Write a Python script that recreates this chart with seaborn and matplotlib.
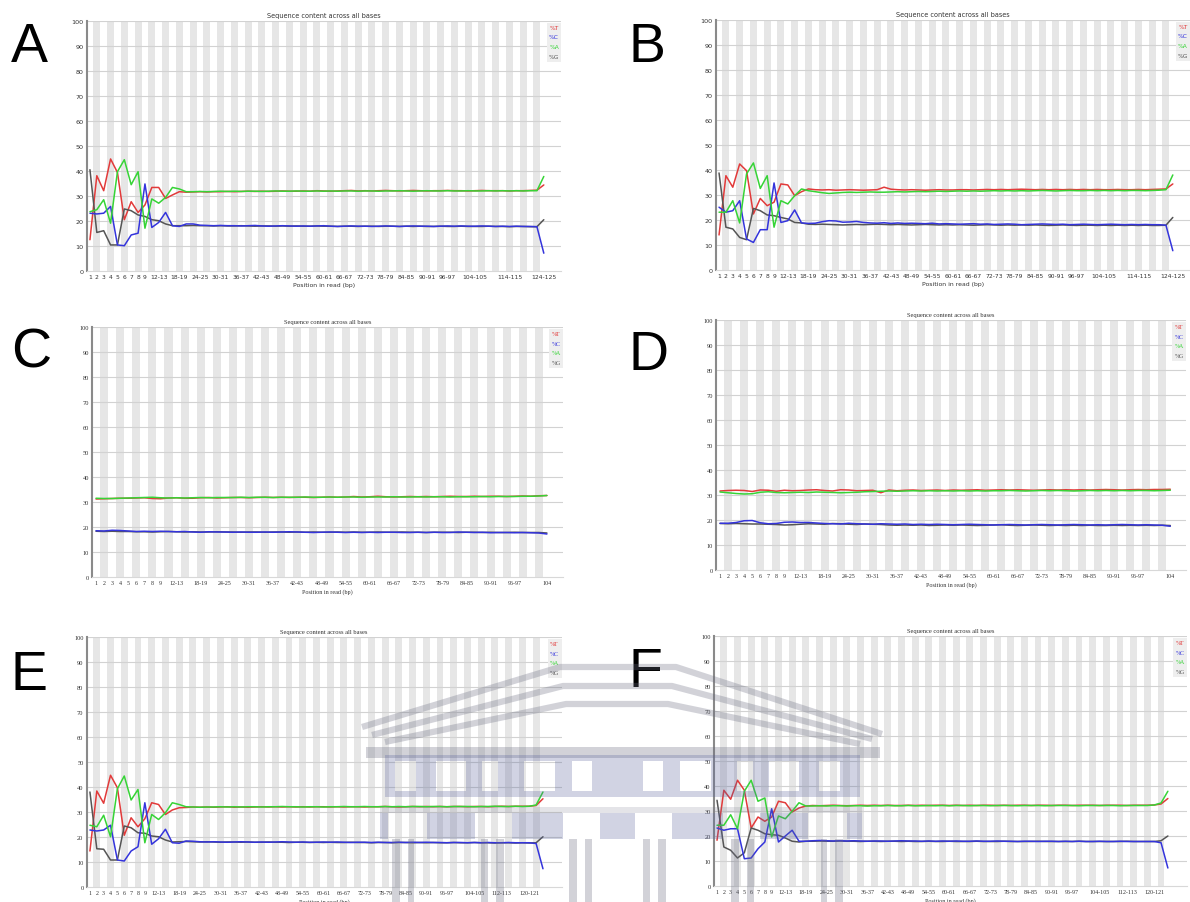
import matplotlib
matplotlib.use("Agg")
import matplotlib.pyplot as plt
import seaborn as sns
import pandas as pd
from matplotlib.patches import Rectangle

W, H = 1190, 903

# ---------------- data ----------------
TICKS_AB = ["1", "2", "3", "4", "5", "6", "7", "8", "9", "12-13", "18-19", "24-25", "30-31",
            "36-37", "42-43", "48-49", "54-55", "60-61", "66-67", "72-73", "78-79", "84-85",
            "90-91", "96-97", "104-105", "114-115", "124-125"]
TICKS_CD = ["1", "2", "3", "4", "5", "6", "7", "8", "9", "12-13", "18-19", "24-25", "30-31",
            "36-37", "42-43", "48-49", "54-55", "60-61", "66-67", "72-73", "78-79", "84-85",
            "90-91", "96-97", "104"]
TICKS_EF = ["1", "2", "3", "4", "5", "6", "7", "8", "9", "12-13", "18-19", "24-25", "30-31",
            "36-37", "42-43", "48-49", "54-55", "60-61", "66-67", "72-73", "78-79", "84-85",
            "90-91", "96-97", "104-105", "112-113", "120-121"]

A_T = [12.4, 38.0, 32.0, 44.7, 39.3, 20.4, 27.6, 23.3, 26.3, 33.3, 33.3, 28.9, 30.3, 31.6,
       31.4, 31.5, 31.6, 31.5, 31.6, 31.6, 31.7, 31.6, 31.7, 31.8,
       31.7, 31.8, 31.7, 31.8, 31.9, 31.8, 31.8, 31.9, 31.8, 32.0,
       31.9, 31.8, 31.9, 32.0, 32.1, 31.9, 32.0, 31.9, 32.0, 32.1,
       32.0, 31.9, 32.0, 32.1, 32.0, 31.9, 32.0, 32.0, 32.1, 32.0,
       32.0, 31.9, 32.0, 32.1, 32.0, 32.0, 32.0, 31.9, 32.0, 32.0,
       32.1, 32.2, 34.3]
A_C = [23.0, 22.7, 23.0, 25.7, 10.3, 10.0, 14.3, 15.0, 34.7, 17.3, 19.3, 23.3, 18.0, 17.7,
       18.7, 18.7, 18.2, 18.1, 18.0, 18.1, 18.0, 18.0, 17.9, 18.0,
       18.1, 17.9, 17.8, 17.9, 18.0, 17.9, 17.8, 17.9, 17.8, 17.9,
       18.0, 17.8, 17.7, 17.8, 17.9, 17.8, 17.8, 17.7, 17.8, 17.9,
       17.8, 17.7, 17.8, 17.9, 17.8, 17.8, 17.7, 17.8, 17.9, 17.8,
       17.9, 17.8, 17.8, 17.9, 17.8, 17.7, 17.8, 17.7, 17.8, 17.7,
       17.7, 17.6, 7.0]
A_A = [23.6, 24.4, 28.4, 19.0, 39.6, 44.4, 34.4, 39.6, 17.0, 28.7, 27.0, 29.3, 33.3, 32.7,
       31.6, 31.6, 31.7, 31.6, 31.7, 31.8, 31.7, 31.8, 31.7, 31.8,
       31.8, 31.7, 31.8, 31.9, 31.8, 31.8, 31.9, 31.8, 31.8, 31.9,
       31.8, 31.9, 31.8, 31.9, 31.9, 31.8, 31.9, 31.9, 31.8, 31.9,
       31.9, 32.0, 31.9, 31.8, 31.9, 32.0, 31.9, 31.9, 32.0, 31.9,
       31.9, 32.0, 31.9, 31.9, 32.0, 31.9, 32.0, 31.9, 32.0, 31.9,
       32.0, 32.0, 37.7]
A_G = [40.4, 15.3, 16.0, 10.3, 10.3, 24.7, 24.0, 22.3, 21.7, 20.4, 20.0, 18.7, 18.0, 18.0,
       18.0, 18.1, 18.0, 18.0, 17.9, 18.0, 17.9, 17.9, 18.0, 17.9,
       17.8, 17.9, 17.9, 17.8, 17.9, 17.8, 17.9, 17.8, 17.8, 17.9,
       17.8, 17.8, 17.7, 17.8, 17.8, 17.7, 17.8, 17.8, 17.7, 17.8,
       17.8, 17.7, 17.8, 17.7, 17.8, 17.7, 17.7, 17.8, 17.7, 17.7,
       17.8, 17.7, 17.7, 17.7, 17.8, 17.7, 17.7, 17.6, 17.7, 17.7,
       17.6, 17.6, 20.4]

B_T = [13.9, 37.6, 33.0, 42.3, 39.6, 22.3, 28.5, 25.6, 27.0, 34.3, 33.9, 29.6, 31.2, 32.3,
       32.0, 31.9, 32.0, 31.8, 31.9, 32.0, 31.9, 31.8, 31.9, 32.0,
       33.0, 32.2, 32.0, 31.9, 32.0, 31.9, 31.8, 31.9, 32.0, 31.9,
       31.9, 32.0, 32.0, 31.9, 32.0, 32.1, 32.0, 32.1, 32.0, 32.1,
       32.2, 32.1, 32.0, 32.1, 32.0, 32.1, 32.0, 32.1, 32.0, 32.1,
       32.0, 32.1, 32.0, 32.0, 32.1, 32.0, 32.0, 32.1, 32.0, 32.1,
       32.2, 32.3, 34.3]
B_C = [25.0, 23.0, 23.6, 27.6, 12.3, 10.9, 16.0, 16.0, 34.7, 18.9, 19.6, 23.9, 18.7, 18.5,
       18.6, 19.2, 19.6, 19.5, 19.0, 19.1, 19.3, 18.9, 18.7, 18.6,
       18.8, 18.5, 18.7, 18.5, 18.6, 18.5, 18.4, 18.6, 18.3, 18.4,
       18.3, 18.2, 18.3, 18.4, 18.2, 18.3, 18.1, 18.2, 18.3, 18.2,
       18.0, 18.1, 18.2, 18.3, 18.2, 18.1, 18.2, 18.0, 18.1, 18.2,
       18.1, 18.0, 18.1, 18.2, 18.1, 18.0, 18.1, 18.0, 18.1, 18.0,
       18.0, 17.8, 7.6]
B_A = [23.0, 23.0, 27.6, 18.7, 38.3, 42.7, 32.5, 37.6, 17.0, 27.6, 26.3, 29.6, 32.3, 31.6,
       31.2, 30.8, 30.5, 30.7, 30.9, 31.0, 30.9, 31.0, 31.1, 31.0,
       31.0, 31.1, 31.2, 31.1, 31.2, 31.3, 31.2, 31.3, 31.4, 31.3,
       31.4, 31.5, 31.4, 31.5, 31.4, 31.5, 31.6, 31.5, 31.6, 31.5,
       31.6, 31.5, 31.6, 31.7, 31.6, 31.5, 31.6, 31.7, 31.6, 31.6,
       31.7, 31.6, 31.7, 31.6, 31.7, 31.6, 31.7, 31.7, 31.6, 31.7,
       31.8, 32.0, 37.9]
B_G = [38.7, 17.0, 16.3, 12.9, 12.0, 24.5, 23.6, 21.9, 21.6, 20.9, 20.3, 18.9, 18.7, 18.2,
       18.1, 18.2, 18.1, 18.0, 17.9, 18.0, 18.1, 18.0, 18.1, 18.2,
       18.1, 18.0, 18.1, 18.0, 17.9, 18.0, 18.1, 18.0, 17.9, 18.0,
       17.9, 18.0, 17.9, 17.8, 17.9, 18.0, 17.9, 17.8, 17.9, 17.8,
       17.9, 17.8, 17.9, 17.8, 17.7, 17.8, 17.9, 17.8, 17.7, 17.8,
       17.8, 17.7, 17.8, 17.7, 17.8, 17.7, 17.8, 17.7, 17.8, 17.7,
       17.7, 17.8, 20.9]

C_T = [31.2, 31.3, 31.4, 31.5, 31.5, 31.6, 31.7, 31.4, 31.3, 31.6,
       31.7, 31.5, 31.5, 31.7, 31.8, 31.6, 31.7, 31.8, 31.8, 31.7,
       31.8, 31.9, 31.8, 31.9, 31.8, 31.9, 31.9, 31.8, 31.9, 32.0,
       31.9, 32.0, 32.2, 32.0, 32.1, 32.3, 32.1, 32.0, 32.1, 32.2,
       32.1, 32.2, 32.1, 32.2, 32.3, 32.2, 32.2, 32.3, 32.2, 32.3,
       32.3, 32.2, 32.3, 32.4, 32.3, 32.5, 32.6]
C_C = [18.5, 18.4, 18.7, 18.6, 18.4, 18.2, 18.3, 18.2, 18.3, 18.2,
       18.1, 18.2, 18.0, 17.9, 18.1, 18.0, 18.0, 17.9, 18.0, 17.9,
       17.9, 18.0, 17.9, 18.0, 18.1, 18.0, 17.9, 17.8, 17.9, 18.0,
       17.9, 17.8, 17.9, 17.8, 17.9, 17.8, 17.9, 17.9, 17.8, 17.8,
       17.9, 17.8, 17.9, 17.8, 17.8, 18.0, 17.9, 17.8, 17.9, 17.7,
       17.8, 17.8, 17.7, 17.8, 17.7, 17.6, 17.2]
C_A = [31.5, 31.4, 31.4, 31.5, 31.6, 31.7, 31.8, 31.9, 31.7, 31.6,
       31.7, 31.6, 31.7, 31.8, 31.7, 31.8, 31.8, 31.8, 31.9, 31.8,
       31.9, 31.9, 31.8, 31.9, 31.9, 31.9, 32.0, 31.9, 31.9, 32.0,
       31.9, 32.0, 32.0, 31.9, 32.0, 32.0, 32.0, 32.1, 32.0, 32.0,
       32.1, 32.0, 32.1, 32.1, 32.0, 32.1, 32.1, 32.1, 32.2, 32.1,
       32.2, 32.2, 32.2, 32.3, 32.3, 32.4, 32.6]
C_G = [18.3, 18.2, 18.3, 18.2, 18.2, 18.1, 18.1, 18.0, 18.1, 18.2,
       18.1, 18.0, 18.1, 18.0, 18.0, 18.1, 18.0, 18.0, 17.9, 18.0,
       18.0, 17.9, 18.0, 18.0, 17.9, 18.0, 17.9, 18.0, 17.9, 17.9,
       18.0, 17.9, 18.0, 17.9, 17.9, 18.0, 17.9, 17.9, 18.0, 17.9,
       17.9, 17.8, 17.9, 17.9, 17.9, 17.8, 17.9, 17.9, 17.8, 17.9,
       17.8, 17.8, 17.9, 17.8, 17.8, 17.8, 17.6]

D_T = [31.6, 31.8, 31.9, 31.8, 31.4, 32.0, 31.9, 31.5, 31.9, 31.7,
       31.8, 32.0, 32.1, 31.8, 31.6, 32.1, 32.0, 31.7, 31.8, 31.9,
       30.9, 32.0, 31.7, 31.9, 32.0, 31.8, 31.9, 32.0, 31.8, 32.0,
       31.9, 32.0, 32.1, 31.9, 32.0, 32.1, 32.0, 32.1, 32.0, 31.9,
       32.0, 32.1, 32.0, 32.1, 32.0, 32.1, 32.0, 32.1, 32.2, 32.1,
       32.0, 32.1, 32.2, 32.1, 32.2, 32.2, 32.3]
D_C = [18.7, 18.7, 19.0, 19.7, 19.8, 18.9, 18.5, 18.6, 19.1, 19.2,
       19.0, 19.0, 18.8, 18.6, 18.5, 18.4, 18.7, 18.5, 18.4, 18.3,
       18.5, 18.4, 18.3, 18.4, 18.2, 18.3, 18.2, 18.3, 18.2, 18.1,
       18.2, 18.3, 18.2, 18.1, 18.0, 18.1, 18.2, 18.1, 18.0, 18.1,
       18.2, 18.1, 18.0, 18.1, 18.2, 18.1, 18.0, 18.1, 18.0, 18.1,
       18.2, 18.1, 18.0, 18.1, 18.0, 17.9, 17.5]
D_A = [31.2, 30.9, 30.6, 30.4, 30.5, 31.1, 31.3, 31.0, 30.9, 31.0,
       31.1, 31.0, 31.2, 31.1, 31.0, 30.9, 31.0, 31.1, 31.3, 31.4,
       31.5, 31.6, 31.5, 31.6, 31.7, 31.6, 31.7, 31.6, 31.7, 31.6,
       31.7, 31.6, 31.7, 31.6, 31.7, 31.7, 31.8, 31.7, 31.6, 31.7,
       31.8, 31.7, 31.8, 31.7, 31.6, 31.7, 31.8, 31.7, 31.8, 31.7,
       31.8, 31.7, 31.8, 31.8, 31.7, 31.8, 31.9]
D_G = [18.6, 18.5, 18.6, 18.5, 18.4, 18.4, 18.3, 18.2, 18.0, 18.1,
       18.3, 18.5, 18.4, 18.3, 18.6, 18.5, 18.3, 18.2, 18.4, 18.3,
       18.2, 18.0, 17.9, 18.0, 17.9, 18.0, 17.8, 17.9, 18.0, 17.9,
       18.0, 17.9, 17.8, 17.9, 18.0, 18.1, 17.9, 17.8, 17.9, 18.0,
       17.9, 17.8, 17.9, 17.8, 17.9, 17.8, 17.9, 17.8, 17.8, 17.9,
       17.8, 17.9, 17.8, 17.9, 17.8, 17.9, 17.8]

E_T = [14.4, 38.4, 33.5, 44.7, 39.7, 20.7, 27.7, 24.1, 27.3, 33.7, 33.0, 29.0, 30.8, 31.7,
       31.8, 32.0, 31.9, 32.0, 31.9, 32.0, 32.1, 31.9, 32.0, 31.9,
       32.0, 32.1, 32.0, 32.1, 32.0, 32.1, 32.0, 32.1, 32.0, 32.1,
       32.1, 32.0, 32.1, 32.0, 32.1, 32.1, 32.0, 32.1, 32.1, 32.2,
       32.1, 32.0, 32.1, 32.2, 32.1, 32.2, 32.1, 32.2, 32.1, 32.2,
       32.2, 32.1, 32.2, 32.2, 32.1, 32.2, 32.3, 32.2, 32.3, 32.3,
       32.3, 32.6, 35.3]
E_C = [22.8, 22.4, 22.8, 24.7, 10.8, 10.4, 14.4, 16.1, 33.7, 17.1, 19.3, 23.1, 17.7, 17.5,
       18.4, 18.3, 18.1, 18.0, 18.1, 18.0, 17.9, 18.0, 18.1, 18.0,
       17.9, 18.0, 17.9, 18.0, 18.1, 18.0, 17.9, 18.0, 17.9, 17.9,
       18.0, 17.9, 18.0, 17.9, 17.8, 17.9, 17.9, 17.8, 17.9, 17.8,
       17.8, 17.9, 17.8, 17.9, 17.8, 17.9, 17.8, 17.8, 17.7, 17.8,
       17.8, 17.7, 17.8, 17.7, 17.8, 17.7, 17.7, 17.8, 17.7, 17.7,
       17.7, 17.4, 7.3]
E_A = [24.7, 24.1, 28.7, 20.1, 39.3, 44.4, 34.8, 39.0, 17.7, 29.0, 27.0, 29.7, 33.7, 33.0,
       32.1, 32.0, 31.9, 32.0, 32.0, 32.1, 32.0, 32.1, 32.0, 32.1,
       32.1, 32.0, 32.1, 32.1, 32.2, 32.1, 32.1, 32.0, 32.1, 32.1,
       32.0, 32.1, 32.1, 32.2, 32.1, 32.1, 32.2, 32.1, 32.1, 32.2,
       32.1, 32.2, 32.1, 32.2, 32.2, 32.1, 32.2, 32.2, 32.1, 32.2,
       32.2, 32.2, 32.1, 32.2, 32.2, 32.3, 32.2, 32.2, 32.3, 32.2,
       32.3, 32.8, 38.0]
E_G = [38.0, 15.3, 15.1, 10.8, 10.8, 24.4, 23.7, 21.7, 21.5, 20.4, 20.1, 18.8, 18.0, 18.1,
       18.2, 18.1, 18.0, 18.1, 18.0, 17.9, 18.0, 18.0, 17.9, 18.0,
       17.9, 17.9, 18.0, 17.9, 17.9, 17.8, 17.9, 17.9, 17.8, 17.9,
       17.8, 17.9, 17.8, 17.8, 17.9, 17.8, 17.8, 17.7, 17.8, 17.8,
       17.7, 17.8, 17.8, 17.7, 17.8, 17.7, 17.8, 17.7, 17.7, 17.8,
       17.7, 17.7, 17.8, 17.7, 17.7, 17.6, 17.7, 17.7, 17.6, 17.7,
       17.6, 17.7, 20.1]

F_T = [18.3, 38.3, 34.7, 42.3, 38.3, 23.2, 27.6, 25.9, 27.6, 33.9, 33.3, 29.6, 31.2, 32.0,
       32.2, 32.1, 32.2, 32.3, 32.2, 32.1, 32.2, 32.3, 32.2, 32.3,
       32.2, 32.3, 32.2, 32.2, 32.3, 32.2, 32.3, 32.2, 32.3, 32.3,
       32.2, 32.3, 32.2, 32.3, 32.2, 32.3, 32.3, 32.2, 32.3, 32.2,
       32.3, 32.3, 32.2, 32.3, 32.3, 32.2, 32.3, 32.3, 32.2, 32.3,
       32.3, 32.3, 32.2, 32.3, 32.3, 32.3, 32.2, 32.3, 32.3, 32.3,
       32.4, 32.8, 35.0]
F_C = [23.2, 22.3, 22.9, 22.9, 10.9, 11.2, 14.9, 17.6, 30.9, 17.6, 20.0, 22.3, 17.9, 17.9,
       18.1, 18.2, 18.1, 18.0, 18.1, 18.0, 18.1, 18.0, 17.9, 18.0,
       18.0, 17.9, 18.0, 18.1, 18.0, 18.0, 17.9, 18.0, 17.9, 18.0,
       17.9, 18.0, 17.9, 17.9, 18.0, 17.9, 17.9, 18.0, 17.9, 17.9,
       17.8, 17.9, 17.9, 17.8, 17.9, 17.9, 17.8, 17.9, 17.8, 17.9,
       17.8, 17.8, 17.9, 17.8, 17.8, 17.9, 17.8, 17.8, 17.8, 17.8,
       17.8, 17.3, 7.2]
F_A = [24.3, 24.3, 28.5, 22.9, 37.9, 42.3, 33.9, 35.2, 19.6, 28.0, 26.9, 29.9, 33.3, 32.0,
       32.0, 32.1, 32.0, 32.1, 32.1, 32.0, 32.1, 32.1, 32.0, 32.1,
       32.1, 32.2, 32.1, 32.1, 32.2, 32.1, 32.1, 32.2, 32.1, 32.2,
       32.1, 32.2, 32.2, 32.1, 32.2, 32.2, 32.1, 32.2, 32.2, 32.2,
       32.1, 32.2, 32.2, 32.2, 32.1, 32.2, 32.2, 32.2, 32.2, 32.1,
       32.2, 32.2, 32.2, 32.2, 32.2, 32.1, 32.2, 32.2, 32.2, 32.2,
       32.4, 33.2, 37.9]
F_G = [34.3, 15.6, 14.3, 11.2, 13.3, 23.2, 22.3, 20.9, 20.5, 20.3, 19.2, 17.9, 17.6, 17.9,
       17.9, 18.0, 17.9, 17.9, 18.0, 17.9, 17.9, 17.8, 17.9, 17.9,
       17.8, 17.9, 17.9, 17.8, 17.9, 17.8, 17.8, 17.9, 17.8, 17.8,
       17.9, 17.8, 17.8, 17.8, 17.9, 17.8, 17.8, 17.8, 17.9, 17.8,
       17.8, 17.8, 17.8, 17.9, 17.8, 17.8, 17.8, 17.8, 17.8, 17.9,
       17.8, 17.8, 17.8, 17.8, 17.8, 17.8, 17.9, 17.8, 17.8, 17.8,
       17.8, 18.1, 20.0]

READ_LEN = {"A": 125, "B": 125, "C": 104, "D": 104, "E": 125, "F": 125}
BASES = ["%T", "%C", "%A", "%G"]
DRAW_ORDER = ["%T", "%G", "%C", "%A"]
COLORS = {"%T": "#e23a3a", "%C": "#3434dc", "%A": "#36d436", "%G": "#555555"}
TITLE = "Sequence content across all bases"
XLABEL = "Position in read (bp)"

# ---------------- layout (pixels) ----------------
PANELS = {
    "A": (86.5, 561, 21.7, 271.7, 68.5, 29, 62, "DejaVu Sans", TICKS_AB, (A_T, A_C, A_A, A_G)),
    "B": (715.6, 1190, 20.7, 270.7, 68.5, 647, 62, "DejaVu Sans", TICKS_AB, (B_T, B_C, B_A, B_G)),
    "C": (92, 563, 328, 578, 58.0, 31, 368, "Liberation Serif", TICKS_CD, (C_T, C_C, C_A, C_G)),
    "D": (716, 1186, 321, 571, 57.95, 649, 370, "Liberation Serif", TICKS_CD, (D_T, D_C, D_A, D_G)),
    "E": (86.5, 561.5, 638, 888, 68.7, 29, 690, "Liberation Serif", TICKS_EF, (E_T, E_C, E_A, E_G)),
    "F": (713.6, 1187, 637, 887, 68.8, 645, 687, "Liberation Serif", TICKS_EF, (F_T, F_C, F_A, F_G)),
}


def groups(L):
    g = [str(i) for i in range(1, 10)]
    a = 10
    while a <= L:
        g.append(f"{a}-{a+1}" if a + 1 <= L else str(a))
        a += 2
    return g


sns.set_theme(style="white")
plt.rcParams["font.family"] = ["DejaVu Sans"]
fig = plt.figure(figsize=(W / 100, H / 100), dpi=100)
fig.patch.set_facecolor("white")


def fx(x):
    return x / W


def fy(y):
    return 1 - y / H


for name, (L, R, T, B, xr, lx, lb, fam, ticks, series) in PANELS.items():
    grp = groups(READ_LEN[name])
    n = len(grp)
    assert all(len(s) == n for s in series), name
    ax = fig.add_axes([fx(L), fy(B), fx(R) - fx(L), fy(T) - fy(B)])
    ax.set_facecolor("white")
    for i in range(1, n, 2):
        ax.axvspan(i - 0.5, i + 0.5, color="#e6e6e6", lw=0, zorder=0)
    for yv in range(10, 101, 10):
        ax.axhline(yv, color="#d2d2d2", lw=0.8, zorder=1)
    df = pd.DataFrame({
        "pos": list(range(n)) * 4,
        "val": [v for s in series for v in s],
        "base": [b for b in BASES for _ in range(n)],
    })
    sns.lineplot(data=df, x="pos", y="val", hue="base", hue_order=DRAW_ORDER,
                 palette=COLORS, legend=False, lw=1.1, ax=ax, zorder=3)
    ax.set_xlim(-0.5, xr)
    ax.set_ylim(0, 100)
    ax.set_yticks(range(0, 101, 10))
    ax.set_yticklabels([str(v) for v in range(0, 101, 10)], fontsize=4.6,
                       family=fam, color="#333333")
    ax.set_xticks([grp.index(t) for t in ticks])
    ax.set_xticklabels(ticks, fontsize=4.3, family=fam, color="#333333")
    ax.tick_params(length=0, pad=2.2)
    ax.set_xlabel(XLABEL, fontsize=4.4, family=fam, color="#333333", labelpad=2)
    ax.set_ylabel("")
    ax.set_title(TITLE, fontsize=4.7, family=fam, color="#333333", pad=3)
    for s in ("top", "right"):
        ax.spines[s].set_visible(False)
    ax.spines["left"].set_color("#8a8a8a")
    ax.spines["left"].set_linewidth(1.5)
    ax.spines["bottom"].set_color("#d8d8d8")
    ax.spines["bottom"].set_linewidth(0.8)
    ax.grid(False)

    # legend box
    bx0, bx1 = R - 14, R
    by0, by1 = T + 2, T + 41
    fig.add_artist(Rectangle((fx(bx0), fy(by1)), fx(bx1) - fx(bx0), fy(by0) - fy(by1),
                             transform=fig.transFigure, facecolor="#eeeeee",
                             edgecolor="none", zorder=5))
    for k, b in enumerate(BASES):
        fig.text(fx(R - 7), fy(T + 6.5 + 9.7 * k), b, fontsize=4.2, family=fam,
                 color=COLORS[b], ha="center", va="center", zorder=6)

    fig.text(fx(lx), fy(lb), name, fontsize=40, family="Liberation Sans",
             ha="center", va="baseline", color="black")

# ---------------- watermark overlay ----------------
wax = fig.add_axes([0, 0, 1, 1], zorder=10)
wax.set_xlim(0, W)
wax.set_ylim(H, 0)
wax.axis("off")
wax.patch.set_alpha(0)
ROOF = "#6a6c80"
BAND = "#5a639c"
A_ROOF, A_BAND = 0.3, 0.28
for pts in ([(362, 728), (560, 668), (676, 668), (882, 735)],
            [(372, 736), (563, 687), (672, 687), (872, 740)],
            [(385, 743), (566, 705), (668, 705), (860, 745)]):
    xs, ys = zip(*pts)
    wax.plot(xs, ys, color=ROOF, alpha=A_ROOF, lw=4.5, solid_capstyle="butt")
wax.add_patch(Rectangle((366, 748), 514, 11, color=ROOF, alpha=A_ROOF, lw=0))
win_edges = [385, 395, 416, 436, 466, 482, 498, 524, 555, 572, 592, 643, 663, 680, 711,
             737, 753, 769, 799, 819, 840, 860]
for a, b in zip(win_edges[0::2], win_edges[1::2]):
    wax.add_patch(Rectangle((a, 762), b - a, 30, color=BAND, alpha=A_BAND, lw=0))
wax.add_patch(Rectangle((385, 792), 475, 6, color=BAND, alpha=A_BAND, lw=0))
wax.add_patch(Rectangle((385, 756), 475, 6, color=BAND, alpha=A_BAND, lw=0))
low_edges = [380, 388, 427, 475, 512, 563, 600, 635, 672, 723, 760, 808, 847, 862]
for a, b in zip(low_edges[0::2], low_edges[1::2]):
    wax.add_patch(Rectangle((a, 814), b - a, 26, color=BAND, alpha=A_BAND, lw=0))
wax.add_patch(Rectangle((380, 808), 482, 6, color=ROOF, alpha=0.18, lw=0))
for a, b in [(392, 400), (408, 414), (481, 488), (496, 504), (569, 577), (585, 592),
             (643, 650), (658, 666), (731, 739), (747, 754), (821, 827), (835, 843)]:
    wax.add_patch(Rectangle((a, 840), b - a, 63, color=ROOF, alpha=A_ROOF, lw=0))

fig.savefig("out.png", dpi=100, facecolor="white")
